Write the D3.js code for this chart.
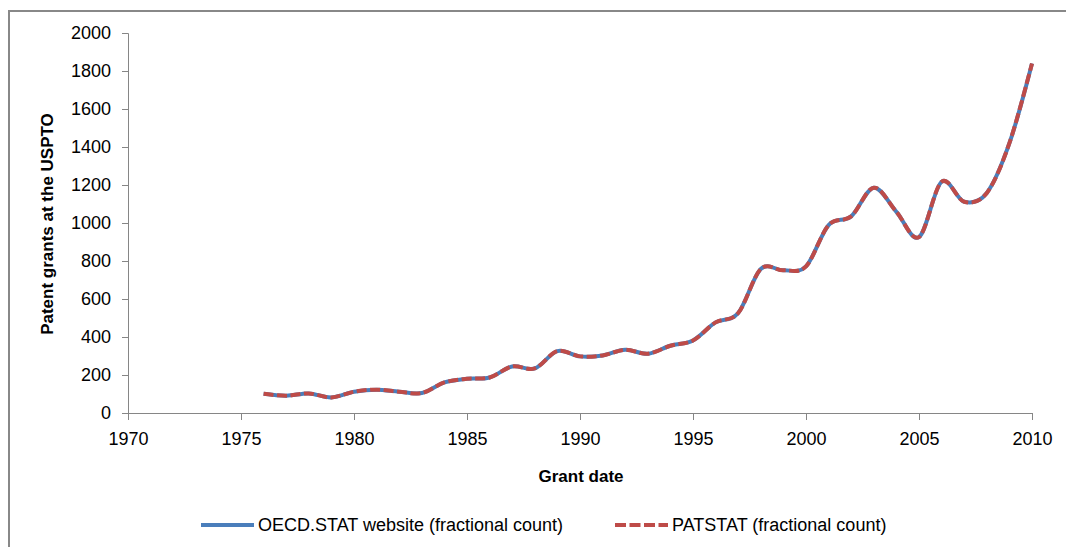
<!DOCTYPE html>
<html>
<head>
<meta charset="utf-8">
<script src="https://cdn.jsdelivr.net/npm/d3@7"></script>
<style>
  body { margin: 0; background: #fff; }
  svg text { fill: #000; }
  .tick text { font-family: "Liberation Sans", Arial, sans-serif; font-size: 18px; }
  .axis-title { font-family: "Liberation Sans", Arial, sans-serif; font-size: 17px; font-weight: bold; }
  .legend text { font-family: "Liberation Sans", Arial, sans-serif; font-size: 18px; }
</style>
</head>
<body>
<svg width="1066" height="547"></svg>
<script>
// years and values
var years = [1976, 1977, 1978, 1979, 1980, 1981, 1982, 1983, 1984, 1985,
             1986, 1987, 1988, 1989, 1990, 1991, 1992, 1993, 1994, 1995,
             1996, 1997, 1998, 1999, 2000, 2001, 2002, 2003, 2004, 2005,
             2006, 2007, 2008, 2009, 2010];
var oecdStat = [101, 91, 103, 82, 112, 123, 112, 105, 161, 180,
                187, 245, 235, 326, 298, 303, 333, 312, 354, 382,
                477, 526, 758, 751, 772, 989, 1035, 1186, 1059, 926,
                1217, 1112, 1158, 1420, 1840];
var patstat = [101, 91, 103, 82, 112, 123, 112, 105, 161, 180,
               187, 245, 235, 326, 298, 303, 333, 312, 354, 382,
               477, 526, 758, 751, 772, 989, 1035, 1186, 1059, 926,
               1217, 1112, 1158, 1420, 1840];
var xTicks = [1970, 1975, 1980, 1985, 1990, 1995, 2000, 2005, 2010];
var yTicks = [0, 200, 400, 600, 800, 1000, 1200, 1400, 1600, 1800, 2000];
var seriesNames = ["OECD.STAT website (fractional count)", "PATSTAT (fractional count)"];

var svg = d3.select("svg");
var axisColor = "#868686";

// chart border (only left and top visible)
svg.append("path")
    .attr("d", "M9,547V11H1066")
    .attr("fill", "none")
    .attr("stroke", "#888")
    .attr("stroke-width", 2);

var x = d3.scaleLinear().domain([1970, 2010]).range([128, 1032]);
var y = d3.scaleLinear().domain([0, 2000]).range([413, 33]);

// y axis
var yAxis = svg.append("g")
    .attr("transform", "translate(128,0)")
    .call(d3.axisLeft(y).tickValues(yTicks).tickSize(6).tickPadding(11).tickFormat(d3.format("d")));
yAxis.select(".domain").attr("stroke", axisColor);
yAxis.selectAll(".tick line").attr("stroke", axisColor);

// x axis
var xAxis = svg.append("g")
    .attr("transform", "translate(0,413)")
    .call(d3.axisBottom(x).tickValues(xTicks).tickSize(7).tickPadding(12).tickFormat(d3.format("d")));
xAxis.select(".domain").attr("stroke", axisColor);
xAxis.selectAll(".tick line").attr("stroke", axisColor);

// axis titles
svg.append("text")
    .attr("class", "axis-title")
    .attr("x", 581)
    .attr("y", 482)
    .attr("text-anchor", "middle")
    .text("Grant date");

svg.append("text")
    .attr("class", "axis-title")
    .attr("transform", "translate(53,224) rotate(-90)")
    .attr("text-anchor", "middle")
    .text("Patent grants at the USPTO");

// lines
var line = d3.line()
    .x(function(d, i) { return x(years[i]); })
    .y(function(d) { return y(d); })
    .curve(d3.curveCardinal.tension(0));

svg.append("path")
    .datum(oecdStat)
    .attr("fill", "none")
    .attr("stroke", "#4A7EBB")
    .attr("stroke-width", 4)
    .attr("d", line);

svg.append("path")
    .datum(patstat)
    .attr("fill", "none")
    .attr("stroke", "#BE4B48")
    .attr("stroke-width", 4)
    .attr("stroke-dasharray", "10,3.5")
    .attr("d", line);

// legend
var legend = svg.append("g").attr("class", "legend");
var legendItems = [
    {name: seriesNames[0], x0: 201, color: "#4A7EBB", dash: null},
    {name: seriesNames[1], x0: 615, color: "#BE4B48", dash: "11,3.5"}
];
legendItems.forEach(function(d) {
    legend.append("line")
        .attr("x1", d.x0).attr("x2", d.x0 + 53)
        .attr("y1", 525).attr("y2", 525)
        .attr("stroke", d.color)
        .attr("stroke-width", 4)
        .attr("stroke-dasharray", d.dash);
    legend.append("text")
        .attr("x", d.x0 + 57)
        .attr("y", 531)
        .text(d.name);
});
</script>
</body>
</html>
